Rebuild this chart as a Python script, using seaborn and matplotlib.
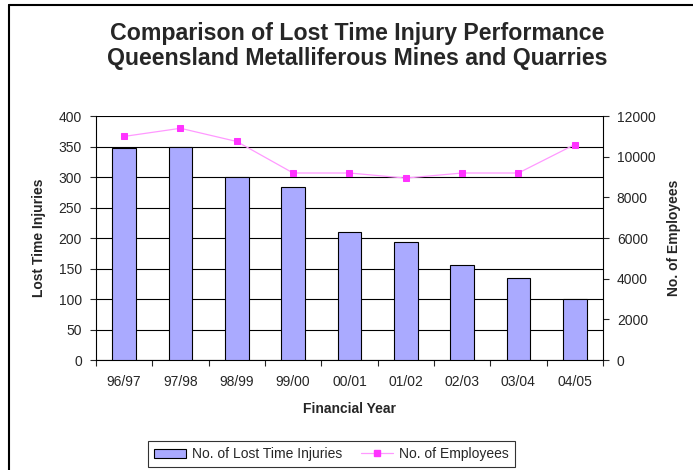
import numpy as np
import pandas as pd
import seaborn as sns
import matplotlib
matplotlib.use("Agg")
import matplotlib.pyplot as plt
from matplotlib.lines import Line2D
from matplotlib.patches import Patch

# Data
years = ["96/97", "97/98", "98/99", "99/00", "00/01", "01/02", "02/03", "03/04", "04/05"]
lost_time_injuries = [348, 350, 300, 283, 210, 194, 156, 135, 100]
employees = [11000, 11400, 10750, 9200, 9200, 8950, 9200, 9200, 10600]

df = pd.DataFrame({"Year": years, "LTI": lost_time_injuries, "Employees": employees})

sns.set_style("white")
plt.rcParams["font.family"] = ["Liberation Sans", "DejaVu Sans"]

fig = plt.figure(figsize=(6.93, 4.70), dpi=100)
ax = fig.add_axes([0.1385, 0.234, 0.7315, 0.519])

bar_color = "#AAAAFF"
line_color = "#FF99FF"
marker_color = "#FF33FF"
fs = 10

sns.barplot(data=df, x="Year", y="LTI", color=bar_color, width=0.42,
            edgecolor="black", linewidth=0.8, saturation=1, ax=ax, zorder=3)

ax.set_ylim(0, 400)
ax.set_yticks(np.arange(0, 401, 50))
ax.yaxis.grid(True, color="black", linewidth=0.8, zorder=0)
ax.set_axisbelow(True)
ax.set_xlim(-0.5, len(years) - 0.5)

# ticks between categories on x axis
ax.set_xticks(np.arange(len(years)))
ax.set_xticks(np.arange(-0.5, len(years), 1), minor=True)
ax.tick_params(axis="x", which="major", length=0, labelsize=fs, pad=11)
ax.tick_params(axis="x", which="minor", length=4, width=0.8, direction="out", bottom=True)
ax.tick_params(axis="y", length=4, width=0.8, direction="out", left=True, labelsize=fs, pad=6)

for s in ["top", "right"]:
    ax.spines[s].set_visible(False)
for s in ["left", "bottom"]:
    ax.spines[s].set_color("black")
    ax.spines[s].set_linewidth(0.8)

ax.set_xlabel("Financial Year", fontsize=fs, fontweight="bold", labelpad=9)
ax.set_ylabel("Lost Time Injuries", fontsize=fs, fontweight="bold", labelpad=9)

ax2 = ax.twinx()
sns.lineplot(data=df, x="Year", y="Employees", sort=False, color=line_color,
             linewidth=0.9, marker="s", markersize=5, markerfacecolor=marker_color,
             markeredgecolor=marker_color, ax=ax2, zorder=4)
ax2.set_ylim(0, 12000)
ax2.set_yticks(np.arange(0, 12001, 2000))
ax2.set_xlim(-0.5, len(years) - 0.5)
ax2.tick_params(axis="y", length=4, width=0.8, direction="out", right=True, labelsize=fs, pad=6)
for s in ["top", "left", "bottom"]:
    ax2.spines[s].set_visible(False)
ax2.spines["right"].set_color("black")
ax2.spines["right"].set_linewidth(0.8)
ax2.set_ylabel("No. of Employees", fontsize=fs, fontweight="bold", labelpad=8)
ax2.grid(False)

fig.text(0.515, 0.929, "Comparison of Lost Time Injury Performance", ha="center",
         va="center", fontsize=16.7, fontweight="bold")
fig.text(0.515, 0.876, "Queensland Metalliferous Mines and Quarries", ha="center",
         va="center", fontsize=16.7, fontweight="bold")

handles = [
    Patch(facecolor=bar_color, edgecolor="black", linewidth=0.8),
    Line2D([0], [0], color=line_color, linewidth=0.9, marker="s", markersize=5,
           markerfacecolor=marker_color, markeredgecolor=marker_color),
]
leg = fig.legend(handles, ["No. of Lost Time Injuries", "No. of Employees"],
                 loc="center", bbox_to_anchor=(0.478, 0.034), ncol=2, fontsize=fs,
                 frameon=True, fancybox=False, edgecolor="black", handlelength=2.3,
                 handleheight=0.6, columnspacing=1.4, handletextpad=0.4,
                 borderpad=0.45, borderaxespad=0)
leg.get_frame().set_linewidth(0.8)

# chart border: only top and left edges are inside the picture
x0, y0 = 9 / 693, 1 - 5 / 470
fig.add_artist(Line2D([x0, 1], [y0, y0], transform=fig.transFigure, color="black", linewidth=1.5))
fig.add_artist(Line2D([x0, x0], [0, y0], transform=fig.transFigure, color="black", linewidth=1.5))

fig.savefig("out.png", dpi=100)
